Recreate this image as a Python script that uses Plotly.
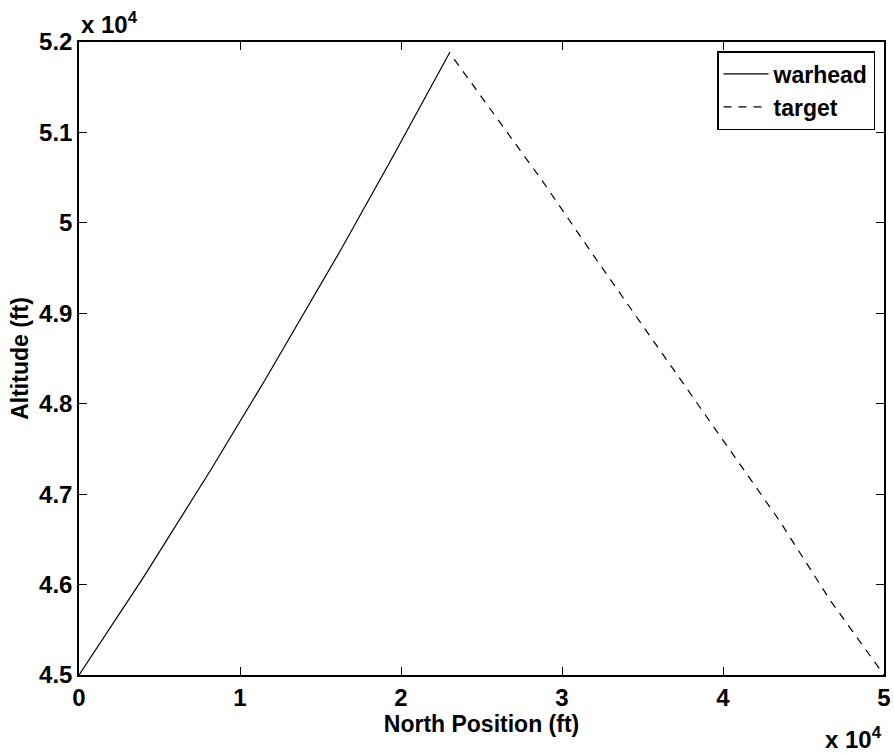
import plotly.graph_objects as go

# Data (ft)
warhead_x = [0, 4000, 8180, 11553, 16255, 19379, 23043]
warhead_y = [45000, 46080, 47267, 48262, 49700, 50695, 51889]
target_x = [23300, 28739, 32155, 37640, 43478, 46646, 50000]
target_y = [51810, 50474, 49589, 48200, 46714, 45829, 45000]

xtick_vals = [0, 10000, 20000, 30000, 40000, 50000]
xtick_text = ["0", "1", "2", "3", "4", "5"]
ytick_vals = [45000, 46000, 47000, 48000, 49000, 50000, 51000, 52000]
ytick_text = ["4.5", "4.6", "4.7", "4.8", "4.9", "5", "5.1", "5.2"]

W, H = 894, 753
L, R, T, B = 79, 10, 42, 78

FAM = "Liberation Sans, Arial, sans-serif"
font = dict(family=FAM, size=24, color="black", weight="bold")
title_font = dict(family=FAM, size=23, color="black", weight="bold")

fig = go.Figure()
fig.add_trace(go.Scatter(x=warhead_x, y=warhead_y, mode="lines", name="warhead",
                         line=dict(color="black", width=1.2, dash="solid")))
fig.add_trace(go.Scatter(x=target_x, y=target_y, mode="lines", name="target",
                         line=dict(color="black", width=1.2, dash="8px,7px")))

axis_common = dict(showgrid=False, zeroline=False, showline=True, linecolor="black",
                   linewidth=1.5, mirror="ticks", ticks="inside", ticklen=8,
                   tickcolor="black", tickwidth=1, tickfont=font)

fig.update_xaxes(range=[0, 50000], tickvals=xtick_vals, ticktext=xtick_text,
                 title=dict(text="North Position (ft)", font=title_font, standoff=0),
                 **axis_common)
fig.update_yaxes(range=[45000, 52000], tickvals=ytick_vals, ticktext=ytick_text,
                 title=dict(text="Altitude (ft)", font=title_font, standoff=4),
                 **axis_common)

fig.add_annotation(x=0, y=1, xref="paper", yref="paper", xanchor="left", yanchor="bottom",
                   text="x 10<sup>4</sup>", showarrow=False, font=font, yshift=2)
fig.add_annotation(x=1, y=0, xref="paper", yref="paper", xanchor="right", yanchor="top",
                   text="x 10<sup>4</sup>", showarrow=False, font=font, yshift=-46)

fig.update_layout(
    width=W, height=H,
    margin=dict(l=L, r=R, t=T, b=B, autoexpand=False),
    plot_bgcolor="white", paper_bgcolor="white",
    showlegend=True,
    legend=dict(x=(875 - L) / (W - L - R), y=1 - (51 - T) / (H - T - B),
                xanchor="right", yanchor="top",
                bordercolor="black", borderwidth=1.5, bgcolor="white",
                font=dict(family=FAM, size=23, color="black", weight="bold"),
                tracegroupgap=0, itemwidth=45, entrywidth=115, entrywidthmode="pixels"),
)

fig.write_html("out.html")
